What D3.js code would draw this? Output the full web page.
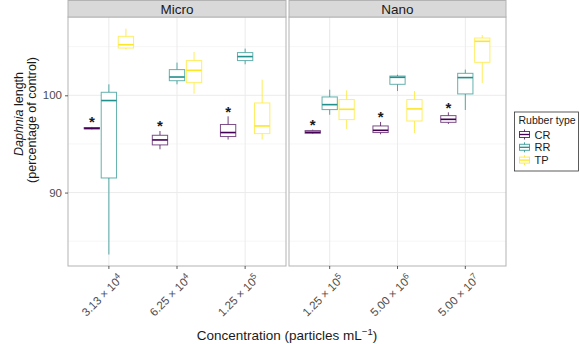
<!DOCTYPE html>
<html>
<head>
<meta charset="utf-8">
<title>Daphnia length</title>
<script src="https://d3js.org/d3.v7.min.js"></script>
<style>
  body { margin: 0; background: #fff; }
  svg text { font-family: "Liberation Sans", Arial, Helvetica, sans-serif; }
  .grid-major { stroke: #ebebeb; stroke-width: 1; }
  .grid-minor { stroke: #f4f4f4; stroke-width: 0.8; }
  .tick-lab { fill: #4d4d4d; font-size: 11.5px; }
</style>
</head>
<body>
<div class="chart"></div>
<script>
// panel facets and their x categories
var sizes = ["Micro", "Nano"];
var concMicro = [["3.13", "4"], ["6.25", "4"], ["1.25", "5"]];
var concNano = [["1.25", "5"], ["5.00", "6"], ["5.00", "7"]];
var rubberTypes = ["CR", "RR", "TP"];
var rubberColors = ["#440154", "#21908C", "#FDE725"];
var yTicks = [90, 100];
var yMinor = [85, 95, 105];

// box stats per rubber type: [lower whisker, q1, median, q3, upper whisker]
// first three = Micro, last three = Nano (same order as the conc arrays)
var crStats = [
  [96.5, 96.55, 96.6, 96.68, 96.75],
  [94.45, 94.9, 95.41, 95.89, 96.33],
  [95.45, 95.76, 96.17, 97.0, 97.84],
  [96.03, 96.1, 96.2, 96.37, 96.47],
  [95.99, 96.17, 96.4, 96.85, 97.26],
  [97.05, 97.22, 97.53, 97.91, 98.25]
];
var rrStats = [
  [83.63, 91.5, 99.46, 100.31, 101.13],
  [101.13, 101.5, 101.88, 102.64, 103.36],
  [103.19, 103.57, 103.98, 104.39, 104.8],
  [98.0, 98.53, 99.04, 99.83, 100.58],
  [100.44, 101.13, 101.85, 101.98, 102.12],
  [98.49, 100.14, 101.82, 102.26, 102.64]
];
var tpStats = [
  [104.7, 104.86, 105.2, 106.06, 106.85],
  [100.17, 101.3, 102.57, 103.57, 104.45],
  [95.45, 96.06, 96.85, 99.21, 101.61],
  [96.54, 97.5, 98.56, 99.56, 100.51],
  [96.13, 97.36, 98.6, 99.56, 100.44],
  [101.27, 103.39, 105.55, 105.89, 106.2]
];
// significance marks (CR in every group)
var starFlags = [true, true, true, true, true, true];

var W = 579, H = 344;
var svg = d3.select(".chart").append("svg")
  .attr("width", W).attr("height", H);

var panelTop = 17, panelBottom = 266;
var panels = [{x0: 68, x1: 286, name: sizes[0], conc: concMicro},
              {x0: 289, x1: 506, name: sizes[1], conc: concNano}];

var y = d3.scaleLinear().domain([82.45, 108.05]).range([panelBottom, panelTop]);
var color = d3.scaleOrdinal().domain(rubberTypes).range(rubberColors);
var allStats = [crStats, rrStats, tpStats];

panels.forEach(function(p, pi) {
  var keys = p.conc.map(function(c) { return c.join("e"); });
  var x = d3.scalePoint().domain(keys).range([p.x0, p.x1]).padding(0.6);
  var step = x.step();
  var g = svg.append("g");

  // grid
  yMinor.forEach(function(v) {
    g.append("line").attr("class", "grid-minor")
      .attr("x1", p.x0).attr("x2", p.x1).attr("y1", y(v)).attr("y2", y(v));
  });
  yTicks.forEach(function(v) {
    g.append("line").attr("class", "grid-major")
      .attr("x1", p.x0).attr("x2", p.x1).attr("y1", y(v)).attr("y2", y(v));
  });
  keys.forEach(function(k) {
    g.append("line").attr("class", "grid-major")
      .attr("x1", x(k)).attr("x2", x(k)).attr("y1", panelTop).attr("y2", panelBottom);
  });

  // boxes
  var dodge = d3.scaleBand().domain(rubberTypes).range([-0.375 * step, 0.375 * step]);
  var bw = dodge.bandwidth() * 0.9;
  keys.forEach(function(k, ki) {
    var idx = pi * 3 + ki;
    rubberTypes.forEach(function(rt, ri) {
      var s = allStats[ri][idx];
      var cx = x(k) + dodge(rt) + dodge.bandwidth() / 2;
      var col = color(rt);
      var bg = g.append("g");
      bg.append("line").attr("x1", cx).attr("x2", cx)
        .attr("y1", y(s[4])).attr("y2", y(s[3]))
        .attr("stroke", col).attr("stroke-opacity", 0.75).attr("stroke-width", 1);
      bg.append("line").attr("x1", cx).attr("x2", cx)
        .attr("y1", y(s[1])).attr("y2", y(s[0]))
        .attr("stroke", col).attr("stroke-opacity", 0.75).attr("stroke-width", 1);
      bg.append("rect").attr("x", cx - bw / 2).attr("width", bw)
        .attr("y", y(s[3])).attr("height", Math.max(0.5, y(s[1]) - y(s[3])))
        .attr("fill", "#fff").attr("stroke", col).attr("stroke-opacity", 0.7)
        .attr("stroke-width", 1);
      bg.append("line").attr("x1", cx - bw / 2).attr("x2", cx + bw / 2)
        .attr("y1", y(s[2])).attr("y2", y(s[2]))
        .attr("stroke", col).attr("stroke-width", 1.6);
      if (ri === 0 && starFlags[idx]) {
        g.append("text").attr("x", cx).attr("y", y(s[4] + 0.8) + 8)
          .attr("text-anchor", "middle").attr("font-size", "15px")
          .attr("font-weight", "bold").attr("fill", "#1a1a1a").text("*");
      }
    });
  });

  // panel border
  g.append("rect").attr("x", p.x0).attr("y", panelTop)
    .attr("width", p.x1 - p.x0).attr("height", panelBottom - panelTop)
    .attr("fill", "none").attr("stroke", "#b3b3b3").attr("stroke-width", 1);

  // strip
  g.append("rect").attr("x", p.x0).attr("y", 0.5)
    .attr("width", p.x1 - p.x0).attr("height", panelTop - 0.5)
    .attr("fill", "#d9d9d9").attr("stroke", "#b3b3b3").attr("stroke-width", 1);
  g.append("text").attr("x", (p.x0 + p.x1) / 2).attr("y", 13.5)
    .attr("text-anchor", "middle").attr("font-size", "13.5px").attr("fill", "#1a1a1a")
    .text(p.name);

  // x axis ticks + rotated labels
  keys.forEach(function(k, ki) {
    var tx = x(k);
    g.append("line").attr("x1", tx).attr("x2", tx)
      .attr("y1", panelBottom).attr("y2", panelBottom + 3)
      .attr("stroke", "#333").attr("stroke-width", 0.8);
    var t = g.append("text").attr("class", "tick-lab")
      .attr("text-anchor", "end")
      .attr("transform", "translate(" + (tx + 15) + "," + (panelBottom + 13.5) + ") rotate(-45)");
    t.append("tspan").text(p.conc[ki][0] + " \u00d7 10");
    t.append("tspan").attr("dy", "-4.5").attr("font-size", "8.5px").text(p.conc[ki][1]);
  });
});

// y axis (left panel only)
var yAxis = d3.axisLeft(y).tickValues(yTicks).tickSize(3).tickPadding(3);
var ya = svg.append("g").attr("transform", "translate(" + panels[0].x0 + ",0)").call(yAxis);
ya.select(".domain").remove();
ya.selectAll(".tick line").attr("stroke", "#333").attr("stroke-width", 0.8);
ya.selectAll(".tick text").attr("class", "tick-lab").attr("font-size", null)
  .attr("font-family", null).style("font-size", "11.5px");

// axis titles
var yt = svg.append("text").attr("transform", "translate(22.5,114) rotate(-90)")
  .attr("text-anchor", "middle").attr("font-size", "12.5px").attr("fill", "#1a1a1a");
yt.append("tspan").attr("font-style", "italic").text("Daphnia");
yt.append("tspan").text(" length");
svg.append("text").attr("transform", "translate(35.5,120) rotate(-90)")
  .attr("text-anchor", "middle").attr("font-size", "12.5px").attr("fill", "#1a1a1a")
  .text("(percentage of control)");

var xt = svg.append("text").attr("x", (panels[0].x0 + panels[1].x1) / 2).attr("y", 340)
  .attr("text-anchor", "middle").attr("font-size", "13.5px").attr("fill", "#1a1a1a");
xt.append("tspan").text("Concentration (particles mL");
xt.append("tspan").attr("dy", "-5").attr("font-size", "9.5px").text("\u22121");
xt.append("tspan").attr("dy", "5").text(")");

// legend
var lg = svg.append("g").attr("transform", "translate(514.5,112)");
lg.append("rect").attr("width", 64).attr("height", 59)
  .attr("fill", "#fff").attr("stroke", "#333").attr("stroke-width", 0.8);
lg.append("text").attr("x", 4).attr("y", 12).attr("font-size", "10.5px")
  .attr("fill", "#1a1a1a").text("Rubber type");
rubberTypes.forEach(function(rt, i) {
  var cy = 22.5 + i * 12.8;
  var col = color(rt);
  var kg = lg.append("g");
  kg.append("line").attr("x1", 10).attr("x2", 10).attr("y1", cy - 5).attr("y2", cy + 5)
    .attr("stroke", col).attr("stroke-opacity", 0.8);
  kg.append("rect").attr("x", 5).attr("y", cy - 3).attr("width", 10).attr("height", 6)
    .attr("fill", "#fff").attr("stroke", col).attr("stroke-opacity", 0.8);
  kg.append("line").attr("x1", 5).attr("x2", 15).attr("y1", cy).attr("y2", cy)
    .attr("stroke", col).attr("stroke-width", 1.3);
  lg.append("text").attr("x", 20).attr("y", cy + 4).attr("font-size", "11px")
    .attr("fill", "#1a1a1a").text(rt);
});
</script>
</body>
</html>
